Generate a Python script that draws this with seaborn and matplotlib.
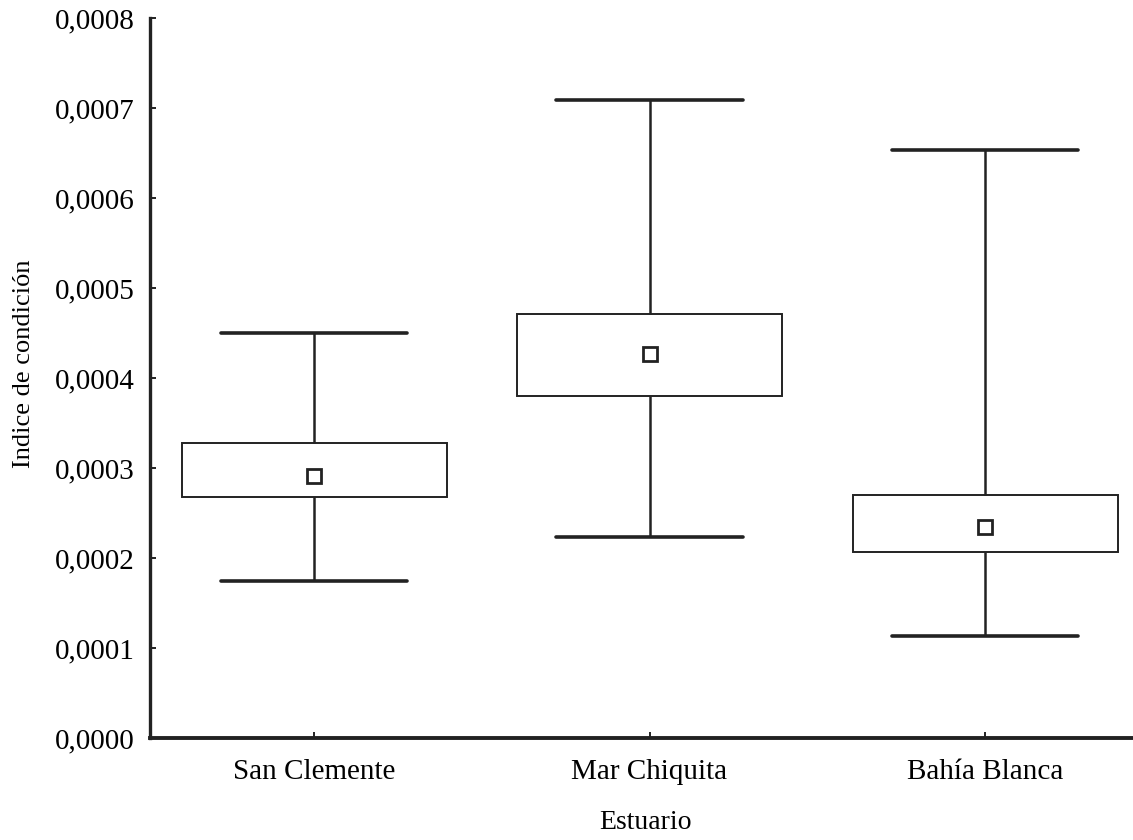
import numpy as np
import pandas as pd
import matplotlib
matplotlib.use("Agg")
import matplotlib.pyplot as plt
import seaborn as sns

# ---- data ----
categories = ["San Clemente", "Mar Chiquita", "Bahía Blanca"]
whisker_low = [0.000174, 0.000223, 0.000113]
box_low = [0.000268, 0.000380, 0.000207]
means = [0.000291, 0.000427, 0.000235]
box_high = [0.000328, 0.000471, 0.000270]
whisker_high = [0.000450, 0.000709, 0.000653]
yticks = [0.0000, 0.0001, 0.0002, 0.0003, 0.0004, 0.0005, 0.0006, 0.0007, 0.0008]
ytick_labels = ["0,0000", "0,0001", "0,0002", "0,0003", "0,0004",
                "0,0005", "0,0006", "0,0007", "0,0008"]
xlabel = "Estuario"
ylabel = "Indice de condición"

# five-number rows per category -> box edges are exact quantiles with whis=(0, 100)
rows = []
for c, lo, q1, m, q3, hi in zip(categories, whisker_low, box_low, means, box_high, whisker_high):
    for v in (lo, q1, m, q3, hi):
        rows.append({"Estuario": c, "valor": v})
df = pd.DataFrame(rows)
df_mean = pd.DataFrame({"Estuario": categories, "media": means})

sns.set_style("ticks")
plt.rcParams["font.family"] = ["Liberation Serif", "DejaVu Serif"]

ink = "#222222"
fig = plt.figure(figsize=(11.33, 8.4), dpi=100)
ax = fig.add_axes([150 / 1133, 102 / 840, 983 / 1133, 720 / 840])

sns.boxplot(
    data=df, x="Estuario", y="valor", order=categories, ax=ax,
    whis=(0, 100), width=0.79, color="white", linecolor=ink, linewidth=1.4,
    fill=True, showfliers=False,
    boxprops={"facecolor": "white", "edgecolor": ink, "linewidth": 1.4},
    whiskerprops={"color": ink, "linewidth": 1.8},
    capprops={"color": ink, "linewidth": 2.6},
    medianprops={"visible": False},
    capwidths=0.557,
)

sns.pointplot(
    data=df_mean, x="Estuario", y="media", order=categories, ax=ax,
    errorbar=None, linestyle="none", marker="s", color=ink,
    markersize=10.5, markeredgewidth=2.0, markerfacecolor="white",
    markeredgecolor=ink,
)

ax.set_xlim(-0.489, 2.441)
ax.set_ylim(0, 0.0008)
ax.set_yticks(yticks)
ax.set_yticklabels(ytick_labels)

for s in ("top", "right"):
    ax.spines[s].set_visible(False)
ax.spines["left"].set_linewidth(2.4)
ax.spines["bottom"].set_linewidth(2.8)
ax.spines["left"].set_color(ink)
ax.spines["bottom"].set_color(ink)

ax.tick_params(axis="both", direction="in", length=4, width=1.4, color=ink,
               labelsize=21, labelcolor="black")
ax.tick_params(axis="y", pad=11)
ax.tick_params(axis="x", pad=15)

ax.set_xlabel(xlabel, fontsize=20, color="black")
ax.set_ylabel(ylabel, fontsize=19, color="black")
ax.xaxis.set_label_coords(0.5036, -0.1)
ax.yaxis.set_label_coords(-0.117, 0.52)

fig.savefig("out.png", dpi=100, facecolor="white")
